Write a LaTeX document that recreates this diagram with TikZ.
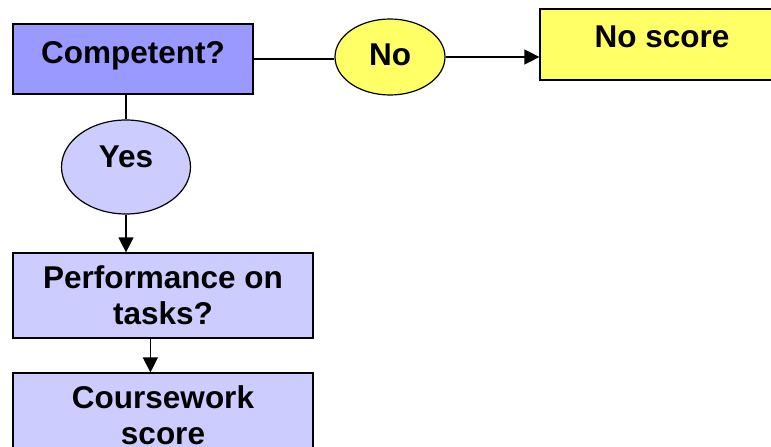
\documentclass[tikz,border=0pt]{standalone}
\usepackage{fontspec}
\setmainfont{Liberation Sans}
\usepackage{tikz}
\usetikzlibrary{positioning}
\usetikzlibrary{shapes}
\usetikzlibrary{arrows.meta}
\definecolor{deepblue}{HTML}{9999FF}
\definecolor{paleblue}{HTML}{CCCCFF}
\definecolor{paleyellow}{HTML}{FFFF66}
\tikzset{box/.style={draw,line width=1.2pt,rectangle,inner sep=0pt,align=center,
  font=\fontsize{31.5}{36}\selectfont\bfseries}}
\tikzset{bubble/.style={draw,line width=1.2pt,ellipse,inner sep=0pt,
  font=\fontsize{31.5}{36}\selectfont\bfseries}}
\tikzset{link/.style={line width=1.2pt}}
\tikzset{arrow/.style={line width=1.2pt,-{Triangle[length=15pt,width=15pt]}}}

\begin{document}
\begin{tikzpicture}[x=1pt,y=-1pt]
\useasboundingbox (0,0) rectangle (771,447);
\node[box,fill=deepblue,minimum width=240pt,minimum height=70pt,
  text height=22pt,text depth=14pt] (comp) at (133,59) {Competent?};
\node[bubble,fill=paleyellow,minimum width=110pt,minimum height=76pt,
  text height=22pt,text depth=6pt] (no) at (390,57) {No};
\node[box,fill=paleyellow,minimum width=244pt,minimum height=71pt,
  text height=22pt,text depth=16pt] (noscore) at (662,44.5) {No score};
\node[bubble,fill=paleblue,minimum width=129pt,minimum height=94pt,
  text height=22pt,text depth=22pt] (yes) at (126,167) {Yes};
\node[box,fill=paleblue,minimum width=300pt,minimum height=85pt] (perf) at (163,295.5) {Performance on\\tasks?};
\node[box,fill=paleblue,minimum width=300pt,minimum height=85pt] (course) at (163,415.5) {Coursework\\score};
% connectors
\draw[link] (comp.east) -- (comp.east -| no.west);
\draw[arrow] (no.east) -- (no.east -| noscore.west);
\draw[link] (yes |- comp.south) -- (yes.north);
\draw[arrow] (yes.south) -- (yes |- perf.north);
\coordinate (split) at ([xshift=138pt]perf.south west);
\draw[arrow] (split) -- (split |- course.north);
\end{tikzpicture}
\end{document}
